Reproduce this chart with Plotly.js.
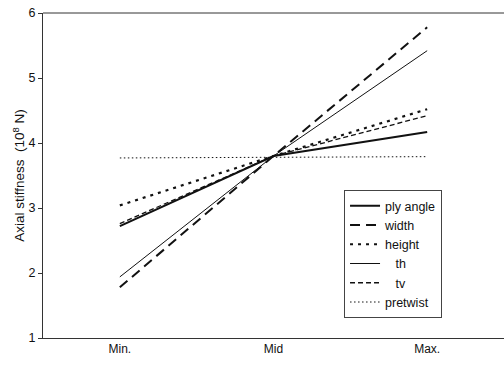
<!DOCTYPE html>
<html>
<head>
<meta charset="utf-8">
<script src="https://cdn.plot.ly/plotly-3.0.1.min.js"></script>
<style>html,body{margin:0;padding:0;background:#fff;}#chart{width:504px;height:368px;}</style>
</head>
<body>
<div id="chart"></div>
<script>
var categories = ['Min.', 'Mid', 'Max.'];
var plyAngle = [2.72, 3.80, 4.17];
var widthVals = [1.78, 3.80, 5.78];
var heightVals = [3.04, 3.80, 4.52];
var th = [1.94, 3.80, 5.42];
var tv = [2.76, 3.80, 4.42];
var pretwist = [3.77, 3.78, 3.79];
var seriesNames = ['ply angle', 'width', 'height', '\u00a0\u00a0\u00a0th', '\u00a0\u00a0\u00a0tv', 'pretwist'];
var yTicks = [1, 2, 3, 4, 5, 6];

var styles = [
  {dash: 'solid', width: 2},
  {dash: '10px,6px', width: 2},
  {dash: '3px,5px', width: 2.2},
  {dash: 'solid', width: 1},
  {dash: '5px,3px', width: 1.3},
  {dash: '1.5px,2.5px', width: 1}
];
var series = [plyAngle, widthVals, heightVals, th, tv, pretwist];
var traces = series.map(function (vals, i) {
  return {
    x: categories, y: vals, name: seriesNames[i], type: 'scatter', mode: 'lines',
    line: {color: '#111', dash: styles[i].dash, width: styles[i].width}
  };
});

var layout = {
  width: 504, height: 368,
  margin: {l: 43, r: 0, t: 13, b: 30},
  paper_bgcolor: '#fff', plot_bgcolor: '#fff',
  font: {family: 'Liberation Sans, Arial, sans-serif', color: '#111', size: 12},
  showlegend: true,
  legend: {
    x: 0.653, y: 0.455, xanchor: 'left', yanchor: 'top',
    bordercolor: '#444', borderwidth: 1, bgcolor: '#fff',
    font: {size: 12.5, color: '#111'}, tracegroupgap: 0
  },
  shapes: [{type: 'line', xref: 'paper', yref: 'paper', x0: 0, x1: 1, y0: 1, y1: 1,
            line: {color: '#333', width: 1}}],
  xaxis: {
    type: 'category', range: [-0.5, 2.5],
    showline: true, linecolor: '#333', linewidth: 1,
    ticks: '', showgrid: false, zeroline: false,
    tickfont: {size: 12}
  },
  yaxis: {
    range: [1, 6], tickvals: yTicks, ticktext: yTicks.map(String),
    showline: true, linecolor: '#333', linewidth: 1,
    ticks: 'outside', ticklen: 4, tickcolor: '#333',
    showgrid: false, zeroline: false, tickfont: {size: 12.5},
    title: {text: 'Axial stiffness  (10<sup>8</sup> N)', font: {size: 13.5}, standoff: 0}
  }
};
Plotly.newPlot('chart', traces, layout, {displayModeBar: false, staticPlot: true});
</script>
</body>
</html>
